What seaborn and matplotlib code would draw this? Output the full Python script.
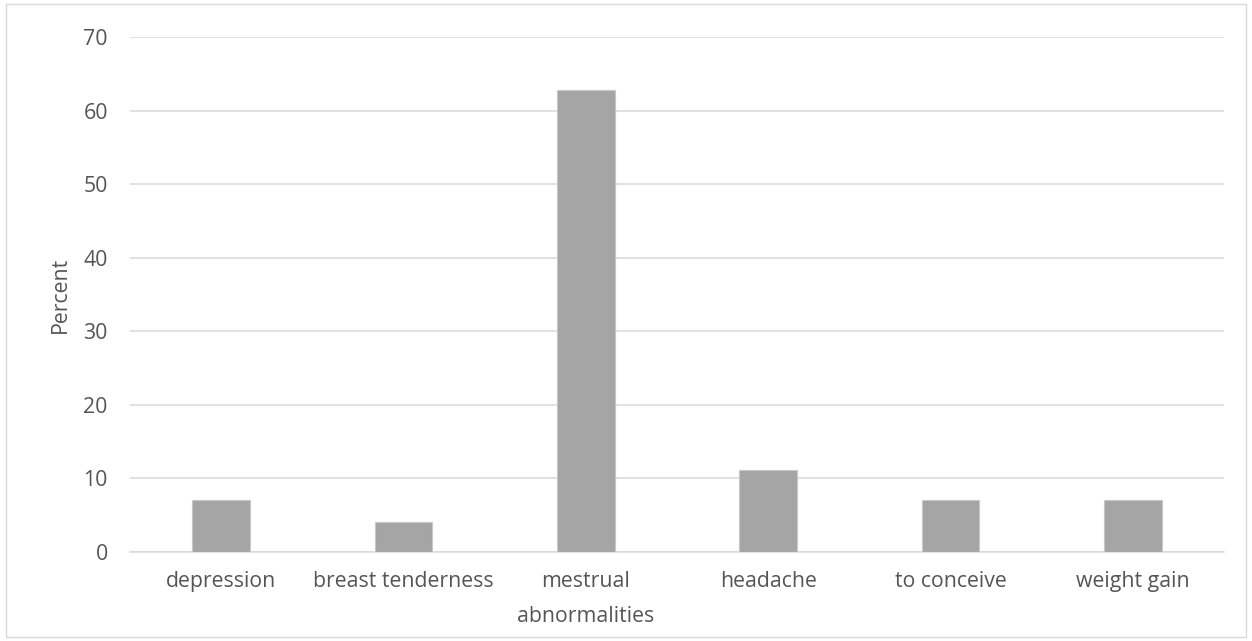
import matplotlib
matplotlib.use("Agg")
import matplotlib.pyplot as plt
import seaborn as sns
import pandas as pd

categories = ["depression", "breast tenderness", "mestrual\nabnormalities",
              "headache", "to conceive", "weight gain"]
percent = [7.1, 4.05, 62.85, 11.2, 7.1, 7.1]
y_ticks = [0, 10, 20, 30, 40, 50, 60, 70]

sns.set_theme(style="white")
plt.rcParams["font.family"] = ["Open Sans", "DejaVu Sans"]

df = pd.DataFrame({"category": categories, "percent": percent})

fig = plt.figure(figsize=(12.52, 6.41), dpi=100)
ax = fig.add_axes([130 / 1252, 1 - 552 / 641, 1094 / 1252, 515 / 641])

sns.barplot(data=df, x="category", y="percent", color="#a5a5a5",
            width=0.315, edgecolor="#c8c8c8", linewidth=0.8,
            saturation=1, ax=ax, zorder=3)

ax.set_ylim(0, 70)
ax.set_yticks(y_ticks)
ax.set_xlim(-0.5, len(categories) - 0.5)
ax.yaxis.grid(True, color="#d9d9d9", linewidth=1.1, zorder=0)
ax.set_axisbelow(True)
for side in ["left", "right", "top"]:
    ax.spines[side].set_visible(False)
ax.spines["bottom"].set_color("#d9d9d9")
ax.spines["bottom"].set_linewidth(1.1)

ax.tick_params(axis="both", length=0, labelsize=15.3, labelcolor="#555555")
ax.tick_params(axis="x", pad=14)
ax.tick_params(axis="y", pad=16)
for lbl in ax.get_xticklabels():
    lbl.set_linespacing(1.85)
ax.set_xlabel("")
ax.set_ylabel("Percent", fontsize=15.3, color="#555555", labelpad=9)

# Thin light frame around the whole chart area
fig.patches.append(plt.Rectangle((6 / 1252, 4 / 641), 1 - 12 / 1252, 1 - 8 / 641,
                                 transform=fig.transFigure, fill=False,
                                 edgecolor="#d9d9d9", linewidth=1))

fig.savefig("out.png", dpi=100, facecolor="white")
